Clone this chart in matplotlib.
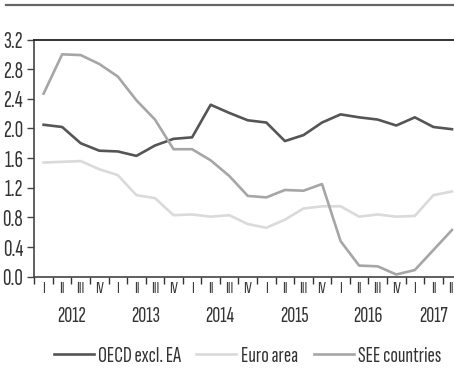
import numpy as np
import matplotlib.pyplot as plt
from matplotlib.lines import Line2D

# quarterly series, 2012 Q1 - 2017 Q3
quarters = ["I", "II", "III", "IV"] * 5 + ["I", "II", "III"]
years = ["2012", "2013", "2014", "2015", "2016", "2017"]

oecd_excl_ea = [2.05, 2.02, 1.80, 1.70, 1.69, 1.63, 1.77, 1.86,
                1.88, 2.32, 2.21, 2.11, 2.08, 1.83, 1.91, 2.08,
                2.19, 2.15, 2.12, 2.04, 2.15, 2.02, 1.99]
euro_area = [1.54, 1.55, 1.56, 1.45, 1.37, 1.10, 1.06, 0.83,
             0.84, 0.81, 0.83, 0.71, 0.66, 0.77, 0.92, 0.95,
             0.95, 0.81, 0.84, 0.81, 0.82, 1.10, 1.15]
see_countries = [2.47, 3.00, 2.99, 2.87, 2.70, 2.38, 2.12, 1.72,
                 1.72, 1.57, 1.36, 1.09, 1.07, 1.17, 1.16, 1.25,
                 0.48, 0.15, 0.14, 0.03, 0.09, 0.36, 0.63]

yticks = [0.0, 0.4, 0.8, 1.2, 1.6, 2.0, 2.4, 2.8, 3.2]

font = "Sofia Sans Extra Condensed"
plt.rcParams["font.family"] = [font, "DejaVu Sans"]
plt.rcParams["font.weight"] = "light"
txt = "#333333"

fig = plt.figure(figsize=(4.54, 3.84), dpi=100)
ax = fig.add_axes([0.0756, 0.2794, 0.9244, 0.6177])

x = np.arange(len(quarters))
ax.plot(x, oecd_excl_ea, color="#555555", lw=1.9, label="OECD excl. EA")
ax.plot(x, euro_area, color="#dadada", lw=1.9, label="Euro area")
ax.plot(x, see_countries, color="#a6a6a6", lw=1.9, label="SEE countries")

ax.set_ylim(0, 3.2)
ax.set_yticks(yticks)
ax.set_yticklabels([f"{v:.1f}" for v in yticks], fontsize=17, color=txt)
ax.set_xlim(-0.5, 22.11)

# tick marks between quarters, labels at quarter centres
ax.set_xticks(np.arange(len(quarters)) - 0.5)
ax.set_xticklabels([])
ax.set_xticks(x, minor=True)
ax.set_xticklabels(quarters, minor=True, fontsize=12, color=txt)
ax.tick_params(axis="x", which="major", direction="out", length=5, width=1, color="#333333")
ax.tick_params(axis="x", which="minor", length=0, pad=4)
ax.tick_params(axis="y", direction="out", length=5, width=1, color="#444444", pad=3)

ax.spines["right"].set_visible(False)
ax.spines["top"].set_color("#222222")
ax.spines["top"].set_linewidth(1.3)
for side in ["left", "bottom"]:
    ax.spines[side].set_color("#444444")
    ax.spines[side].set_linewidth(1.2)

# year labels under each group of quarters
year_pos = [1.5, 5.5, 9.5, 13.5, 17.5, 21.0]
for pos, yr in zip(year_pos, years):
    ax.text(pos, -0.168, yr, transform=ax.get_xaxis_transform(),
            ha="center", va="center", fontsize=16, color=txt)

leg = fig.legend(loc="center", bbox_to_anchor=(0.545, 0.072), ncol=3, frameon=False,
                 fontsize=16, handlelength=1.8, columnspacing=0.7, handletextpad=0.2)
for t in leg.get_texts():
    t.set_color(txt)

# header rule
fig.add_artist(Line2D([0.013, 1.0], [0.987, 0.987], transform=fig.transFigure,
                      color="#666666", lw=1.6))

fig.savefig("out.png", dpi=100)
